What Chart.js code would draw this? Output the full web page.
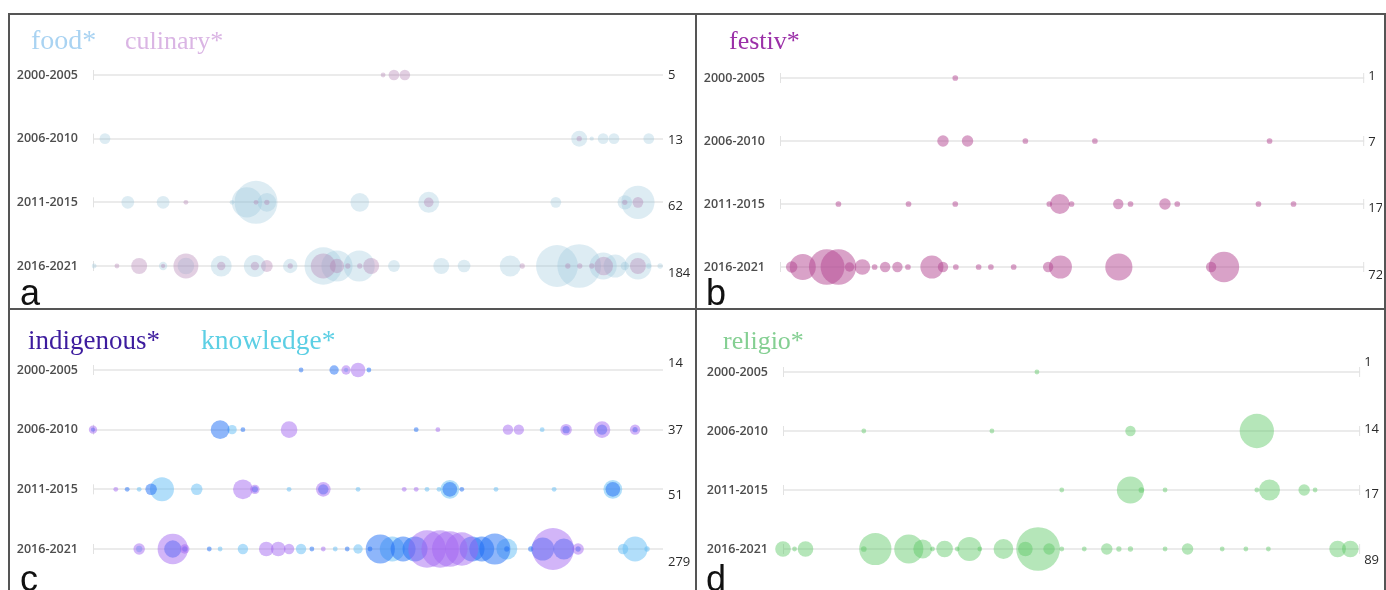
<!DOCTYPE html>
<html>
<head>
<meta charset="utf-8">
<script src="https://cdn.jsdelivr.net/npm/chart.js@4.4.0/dist/chart.umd.min.js"></script>
<style>
    body { margin: 0; background: #fff; width: 1386px; height: 590px; overflow: hidden; position: relative; }
    .frame { position: absolute; left: 8px; top: 13px; width: 1374px; height: 600px; border: 2px solid #555; border-bottom: none; }
    .vline { position: absolute; left: 695px; top: 13px; width: 2px; height: 580px; background: #555; }
    .hline { position: absolute; left: 8px; top: 308px; width: 1378px; height: 2px; background: #555; }
    canvas { position: absolute; }
    .title { position: absolute; font-family: "Liberation Serif", serif; font-size: 26px; line-height: 26px; white-space: nowrap; }
    .letter { position: absolute; font-family: "Liberation Sans", sans-serif; font-size: 36px; line-height: 36px; color: #111; }
</style>
</head>
<body>
<div class="frame"></div>
<div class="vline"></div>
<div class="hline"></div>

<canvas id="chartA" width="685" height="293" style="left:10px;top:15px"></canvas>
<canvas id="chartB" width="685" height="293" style="left:697px;top:15px"></canvas>
<canvas id="chartC" width="685" height="280" style="left:10px;top:310px"></canvas>
<canvas id="chartD" width="685" height="280" style="left:697px;top:310px"></canvas>

<div class="title" style="left:31px;top:27px;color:#a9d3f2;font-size:28px">food*</div>
<div class="title" style="left:125px;top:28px;color:#dab5e4">culinary*</div>
<div class="title" style="left:729px;top:28px;color:#9b30a8">festiv*</div>
<div class="title" style="left:28px;top:327px;color:#3d1c9e;font-size:27px">indigenous*</div>
<div class="title" style="left:201px;top:327px;color:#5ccfe4;font-size:27.5px">knowledge*</div>
<div class="title" style="left:723px;top:328px;color:#84cf92">religio*</div>

<div class="letter" style="left:20px;top:275px">a</div>
<div class="letter" style="left:706px;top:275px">b</div>
<div class="letter" style="left:20px;top:561px">c</div>
<div class="letter" style="left:706px;top:561px">d</div>

<script>
const periods = ["2000-2005", "2006-2010", "2011-2015", "2016-2021"];

// x = relative position along the row (0-100), n = weight of the bubble
const foodX = [
    [],
    [2.1, 85.3, 87.5, 89.5, 91.4, 97.5],
    [6.1, 12.3, 24.4, 27.0, 28.6, 30.5, 46.8, 58.9, 81.2, 93.3, 95.6],
    [0.2, 12.3, 16.3, 22.5, 28.4, 34.6, 40.4, 42.8, 46.7, 52.8, 61.1, 65.1, 73.2, 81.4, 85.3, 89.5, 91.6, 93.3, 95.6, 97.5, 99.5]
];
const foodN = [
    [],
    [5, 11, 0.8, 5, 5, 5],
    [7, 7, 1, 40, 80, 15, 15, 19, 5, 9, 48],
    [1, 3, 12, 19, 21, 9, 61, 42, 42, 6, 11, 7, 19, 76, 83, 32, 23, 3, 32, 1.2, 1.2]
];
const culinaryX = [
    [50.9, 52.8, 54.7],
    [85.3],
    [16.3, 28.6, 30.5, 58.9, 93.3, 95.6],
    [4.2, 8.1, 12.3, 16.3, 22.5, 28.4, 30.5, 34.6, 40.4, 42.8, 44.7, 46.8, 48.8, 75.3, 83.3, 85.4, 87.5, 89.6, 95.6]
];
const culinaryN = [
    [1, 5, 5],
    [1.2],
    [1, 1, 1.2, 4, 1.2, 5],
    [1, 11, 0.8, 27, 3, 3, 6, 1.2, 27, 9, 1.2, 1.2, 11, 1.2, 1.2, 1.2, 1.2, 15, 11]
];
const totalsA = [5, 13, 62, 184];

const festivX = [
    [30.0],
    [27.9, 32.1, 42.0, 53.9, 83.8],
    [10.0, 22.0, 30.0, 46.1, 47.9, 49.9, 57.9, 60.0, 65.9, 68.0, 81.9, 87.9],
    [2.0, 3.9, 8.0, 10.0, 11.9, 14.1, 16.2, 18.0, 20.1, 21.9, 26.0, 27.9, 30.1, 34.0, 36.1, 40.0, 45.9, 48.0, 58.0, 73.8, 76.0]
];
const festivN = [
    [1.4],
    [5.7, 5.7, 1.4, 1.4, 1.4],
    [1.4, 1.4, 1.4, 1.4, 17, 1.4, 4.7, 1.4, 5.7, 1.4, 1.4, 1.4],
    [5.7, 29.5, 55, 55, 3.8, 10.6, 1.4, 4.7, 4.7, 1.4, 23, 4.7, 1.4, 1.4, 1.4, 1.4, 4.7, 23, 32, 4.7, 40]
];
const totalsB = [1, 7, 17, 72];

const indigenousX = [
    [44.4, 46.5],
    [0, 34.4, 60.5, 72.8, 74.7, 83.0, 89.3, 95.1],
    [4.0, 26.3, 28.4, 40.4, 54.6, 56.7],
    [8.1, 14.0, 16.1, 30.4, 32.5, 34.4, 40.4, 58.6, 60.9, 62.6, 64.7, 80.7, 85.1]
];
const indigenousN = [
    [3.8, 9.3],
    [3, 12, 1, 4.7, 4.7, 5.7, 12, 4.7],
    [1, 17, 3.8, 9.3, 1, 1],
    [5.7, 40, 3.8, 9.3, 9.3, 4.7, 1, 61, 61, 55, 48, 76, 5.7]
];
const knowledgeX = [
    [44.4],
    [24.4, 78.8],
    [8.1, 12.1, 18.2, 34.4, 46.5, 58.6, 60.7, 62.6, 70.7, 80.9, 91.2],
    [8.1, 22.3, 26.3, 36.5, 42.5, 46.5, 52.5, 72.6, 93.0, 95.1, 97.2]
];
const knowledgeN = [
    [0.8],
    [3.8, 1],
    [1, 25, 5.7, 1, 1, 1, 1, 15.3, 1, 1, 15.3],
    [1.7, 1, 4.7, 4.7, 1, 3.8, 27, 19, 4.7, 27, 1.2]
];
const bothX = [
    [36.5, 42.3, 48.4],
    [0, 22.3, 26.3, 56.7, 83.0, 89.3, 95.1],
    [6.0, 10.2, 28.4, 40.4, 62.6, 64.7, 91.2],
    [14.0, 16.1, 20.4, 38.4, 44.6, 48.6, 50.4, 54.4, 56.5, 66.5, 68.2, 70.5, 72.6, 76.8, 78.9, 82.6, 85.1]
];
const bothN = [
    [1, 3.8, 1],
    [0.8, 15.3, 1, 1, 2.3, 4.7, 1.2],
    [1, 5.7, 1.7, 4.7, 9.3, 1, 9.3],
    [13, 1.2, 1, 1, 1, 1, 37, 27, 27, 27, 27, 42, 1.2, 1.2, 23, 19, 1.2]
];
const totalsC = [14, 37, 51, 279];

const religioX = [
    [44.0],
    [14.0, 36.2, 60.2, 82.1],
    [48.3, 60.2, 62.1, 66.2, 82.1, 84.3, 90.3, 92.2],
    [0, 2.0, 3.9, 14.0, 16.0, 21.8, 24.2, 25.9, 28.0, 30.2, 32.3, 34.1, 38.2, 42.0, 44.2, 46.1, 48.3, 52.2, 56.1, 58.2, 60.2, 66.2, 70.1, 76.1, 80.2, 84.1, 96.1, 98.3]
];
const religioN = [
    [1],
    [1, 1, 4.7, 51],
    [1, 32, 1.4, 1, 1, 19, 5.7, 1],
    [10.6, 1, 10.6, 1.4, 45, 37, 15.3, 1, 12, 1, 25, 1, 17, 9.3, 83, 5.7, 1, 1, 5.7, 1.2, 1.2, 1, 5.7, 1, 1, 1, 12, 12]
];
const totalsD = [1, 14, 17, 89];


function bubbleRadius(n) {
    return 2.4 * Math.sqrt(n);
}

function makeBubbles(xs, ns) {
    const points = [];
    xs.forEach((row, i) => {
        row.forEach((x, j) => {
            points.push({ x: x, y: periods[i], r: bubbleRadius(ns[i][j]) });
        });
    });
    return points;
}

function makeDataset(label, xs, ns, color) {
    return {
        label: label,
        data: makeBubbles(xs, ns),
        backgroundColor: color,
        borderWidth: 0,
        clip: false
    };
}

// totals at the right end of each row, plus the small caps at the line ends
const rowTotals = {
    id: "rowTotals",
    beforeDatasetsDraw(chart, args, opts) {
        const { ctx, chartArea } = chart;
        const yScale = chart.scales.y;
        ctx.save();
        ctx.strokeStyle = "#e2e2e2";
        ctx.lineWidth = 1;
        periods.forEach((p, i) => {
            const py = yScale.getPixelForValue(i);
            ctx.beginPath();
            ctx.moveTo(chartArea.left + 0.5, py - 5);
            ctx.lineTo(chartArea.left + 0.5, py + 5);
            if (opts.rightCap) {
                ctx.moveTo(chartArea.right - 0.5, py - 5);
                ctx.lineTo(chartArea.right - 0.5, py + 5);
            }
            ctx.stroke();
        });
        ctx.restore();
    },
    afterDraw(chart, args, opts) {
        const { ctx, chartArea } = chart;
        const yScale = chart.scales.y;
        ctx.save();
        ctx.fillStyle = "#2a2a2a";
        ctx.font = '13px "Open Sans"';
        ctx.textBaseline = "middle";
        opts.values.forEach((v, i) => {
            const py = yScale.getPixelForValue(i);
            ctx.fillText(String(v), chartArea.right + opts.gap, py + opts.shift[i]);
        });
        ctx.restore();
    }
};

function createPanel(canvasId, datasets, totals, box) {
    const ctx = document.getElementById(canvasId).getContext("2d");
    return new Chart(ctx, {
        type: "bubble",
        data: { datasets: datasets },
        options: {
            responsive: false,
            animation: false,
            events: [],
            layout: { padding: { top: box.top, right: box.right, bottom: box.bottom, left: 0 } },
            plugins: {
                legend: { display: false },
                tooltip: { enabled: false },
                rowTotals: { values: totals, shift: box.shift, gap: box.gap, rightCap: box.rightCap }
            },
            scales: {
                x: { type: "linear", min: 0, max: 100, display: false },
                y: {
                    type: "category",
                    labels: periods,
                    offset: false,
                    grid: { color: "#ebebeb", lineWidth: 2, drawTicks: false },
                    border: { display: false },
                    ticks: {
                        padding: 15,
                        color: "#4d4d4d",
                        font: { family: "Open Sans", size: 12.5, weight: "600" }
                    },
                    afterFit: (scale) => { scale.width = box.left; }
                }
            }
        },
        plugins: [rowTotals]
    });
}


createPanel("chartA", [
    makeDataset("culinary*", culinaryX, culinaryN, "rgba(180, 130, 180, 0.38)"),
    makeDataset("food*", foodX, foodN, "rgba(150, 196, 219, 0.32)")
], totalsA, { left: 83, right: 32, top: 60, bottom: 42, gap: 5, shift: [0, 2, 4, 7], rightCap: false });

createPanel("chartB", [
    makeDataset("festiv*", festivX, festivN, "rgba(180, 70, 145, 0.5)")
], totalsB, { left: 83, right: 17, top: 63, bottom: 41, gap: 4, shift: [-2, 1, 4, 8], rightCap: true });

createPanel("chartC", [
    makeDataset("indigenous*", indigenousX, indigenousN, "rgba(160, 100, 240, 0.48)"),
    makeDataset("indigenous* knowledge*", bothX, bothN, "rgba(30, 110, 245, 0.5)"),
    makeDataset("knowledge*", knowledgeX, knowledgeN, "rgba(100, 190, 245, 0.5)")
], totalsC, { left: 83, right: 32, top: 60, bottom: 41, gap: 5, shift: [-7, 1, 6, 13], rightCap: false });

createPanel("chartD", [
    makeDataset("religio*", religioX, religioN, "rgba(90, 200, 100, 0.45)")
], totalsD, { left: 86, right: 16, top: 62, bottom: 41, gap: 4, shift: [-10, -2, 4, 11], rightCap: true });
</script>
</body>
</html>
